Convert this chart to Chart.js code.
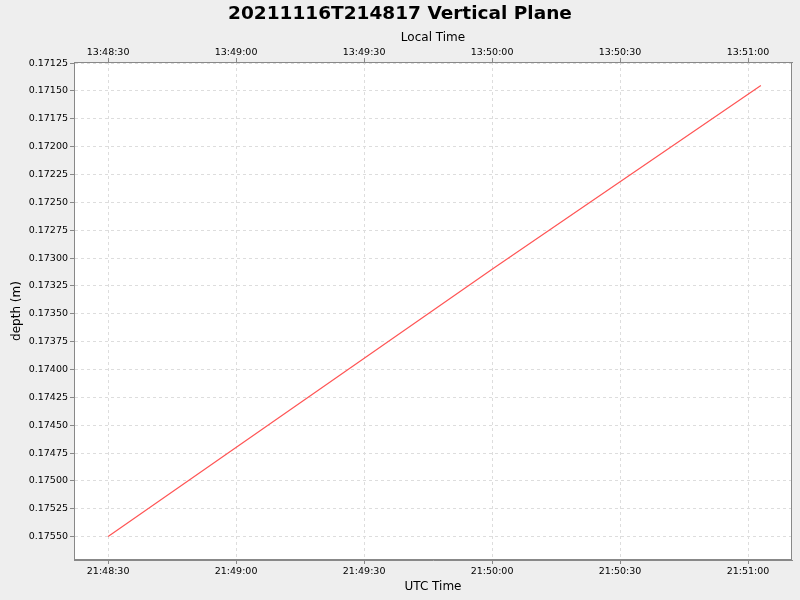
<!DOCTYPE html>
<html>
<head>
<meta charset="utf-8">
<script src="https://cdn.jsdelivr.net/npm/chart.js@4/dist/chart.umd.min.js"></script>
<style>
  html, body { margin: 0; padding: 0; background: #eeeeee; }
  #wrap { width: 800px; height: 600px; }
</style>
</head>
<body>
<div id="wrap"><canvas id="chart"></canvas></div>
<script>
// sample times (UTC) and depth readings
const utcTimes = ['21:48:30', '21:50:00', '21:51:03'];
const depths = [0.17550, 0.17310, 0.17145];

// axis ranges
const xRange = ['21:48:22', '21:51:10.3'];
const yRange = [0.17124, 0.17571];
const localOffsetHours = -8;

function toSec(t) {
  const p = t.split(':').map(Number);
  return p[0] * 3600 + p[1] * 60 + p[2];
}
function fmt(sec) {
  sec = ((Math.round(sec) % 86400) + 86400) % 86400;
  const h = Math.floor(sec / 3600), m = Math.floor(sec / 60) % 60, s = sec % 60;
  return [h, m, s].map(v => String(v).padStart(2, '0')).join(':');
}

const points = utcTimes.map((t, i) => ({ x: toSec(t), y: depths[i] }));
const xMin = toSec(xRange[0]), xMax = toSec(xRange[1]);

const font = { family: 'DejaVu Sans', size: 9.5 };
const titleFont = { family: 'DejaVu Sans', size: 12 };

// white plot area and a frame round it
const framePlugin = {
  id: 'frame',
  beforeDraw(chart) {
    const { ctx, chartArea: a } = chart;
    ctx.save();
    ctx.fillStyle = '#ffffff';
    ctx.fillRect(a.left, a.top, a.right - a.left, a.bottom - a.top);
    ctx.restore();
  },
  afterDraw(chart) {
    const { ctx, chartArea: a } = chart;
    ctx.save();
    ctx.strokeStyle = '#888888';
    ctx.lineWidth = 1;
    ctx.strokeRect(a.left + 0.5, a.top + 0.5, a.right - a.left - 1, a.bottom - a.top - 1);
    ctx.restore();
  }
};

new Chart(document.getElementById('chart'), {
  type: 'line',
  data: {
    datasets: [{
      data: points,
      xAxisID: 'x',
      yAxisID: 'y',
      borderColor: 'rgb(255, 85, 85)',
      borderWidth: 1.2,
      pointRadius: 0,
      fill: false,
      tension: 0
    }, {
      // same points on the local time axis, not drawn
      data: points,
      xAxisID: 'xTop',
      yAxisID: 'y',
      borderColor: 'rgba(0,0,0,0)',
      pointRadius: 0
    }]
  },
  options: {
    responsive: true,
    maintainAspectRatio: false,
    animation: false,
    layout: { padding: 0 },
    plugins: {
      legend: { display: false },
      tooltip: { enabled: false },
      title: {
        display: true,
        text: '20211116T214817 Vertical Plane',
        color: '#000000',
        font: { family: 'DejaVu Sans', size: 18.5, weight: 'bold' },
        padding: { top: 3, bottom: 5 }
      }
    },
    scales: {
      x: {
        type: 'linear',
        position: 'bottom',
        min: xMin,
        max: xMax,
        afterFit(s) { s.height = 40; },
        ticks: {
          stepSize: 30,
          includeBounds: false,
          maxRotation: 0,
          color: '#000000',
          font: font,
          padding: 2,
          callback: v => fmt(v)
        },
        grid: { color: '#dddddd', tickColor: '#888888', tickLength: 4 },
        border: { display: true, color: '#888888', dash: [3, 3] },
        title: { display: true, text: 'UTC Time', color: '#000000', font: titleFont, padding: { top: 0, bottom: 6 } }
      },
      xTop: {
        type: 'linear',
        position: 'top',
        min: xMin,
        max: xMax,
        afterFit(s) { s.height = 62 - 30.2; },
        ticks: {
          stepSize: 30,
          includeBounds: false,
          maxRotation: 0,
          color: '#000000',
          font: font,
          padding: 0,
          callback: v => fmt(v + localOffsetHours * 3600)
        },
        grid: { drawOnChartArea: false, tickColor: '#888888', tickLength: 4 },
        border: { display: true, color: '#888888' },
        title: { display: true, text: 'Local Time', color: '#000000', font: titleFont, padding: { top: 0, bottom: 2 } }
      },
      y: {
        type: 'linear',
        reverse: true,
        min: yRange[0],
        max: yRange[1],
        afterFit(s) { s.width = 74; },
        ticks: {
          stepSize: 0.00025,
          includeBounds: false,
          color: '#000000',
          font: font,
          padding: 2,
          callback: v => v.toFixed(5)
        },
        grid: { color: '#dddddd', tickColor: '#888888', tickLength: 4 },
        border: { display: true, color: '#888888', dash: [3, 3] },
        title: { display: true, text: 'depth (m)', color: '#000000', font: titleFont, padding: { top: 10, bottom: 0 } }
      },
      // empty strip on the right side of the plot
      yRight: {
        type: 'linear',
        position: 'right',
        min: yRange[0],
        max: yRange[1],
        afterFit(s) { s.width = 8; },
        ticks: { display: false },
        grid: { display: false },
        border: { display: false }
      }
    }
  },
  plugins: [framePlugin]
});
</script>
</body>
</html>
